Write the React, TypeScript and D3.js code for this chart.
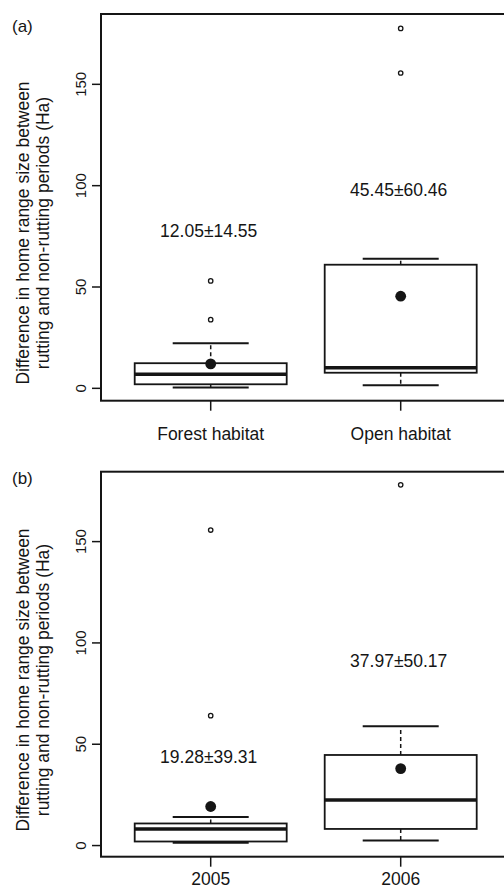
import React from "react";
import * as d3 from "d3";

// ---- data ----
const categoriesA = ["Forest habitat", "Open habitat"];
const categoriesB = ["2005", "2006"];

// [lowerWhisker, Q1, median, Q3, upperWhisker]
const statsA = [
  [0.4, 2.0, 6.9, 12.4, 22.3],
  [1.5, 7.7, 10.2, 61.0, 64.0],
];
const statsB = [
  [1.4, 2.0, 8.2, 10.9, 14.1],
  [2.5, 8.2, 22.5, 44.7, 58.9],
];
const meansA = [12.05, 45.45];
const meansB = [19.28, 37.97];
const outliersA = [[33.9, 53.0], [155.6, 177.6]];
const outliersB = [[64.1, 155.7], [178.0]];
const labelsA = ["12.05±14.55", "45.45±60.46"];
const labelsB = ["19.28±39.31", "37.97±50.17"];
const yTicks = [0, 50, 100, 150];
const panelTags = ["(a)", "(b)"];
const yTitle = ["Difference in home range size between", "rutting and non-rutting periods (Ha)"];

const FONT = "'Liberation Sans', Arial, Helvetica, sans-serif";
const INK = "#151515";

type PanelProps = {
  tag: string;
  cats: string[];
  stats: number[][];
  means: number[];
  outliers: number[][];
  labels: string[];
  top: number;
  bottom: number;
  domain: [number, number];
  labelVals: number[];
  catBaseline: number;
  titleCenter: number;
  tagY: number;
};

function Panel(p: PanelProps) {
  const left = 101;
  const y = d3.scaleLinear().domain(p.domain).range([p.bottom, p.top]);
  const x = d3
    .scaleBand<string>()
    .domain(p.cats)
    .range([115.7, 495.7])
    .paddingInner(0.2)
    .paddingOuter(0.1);
  const bw = x.bandwidth();
  return (
    <g>
      <text x={12} y={p.tagY + 6} fontSize={17} fontFamily={FONT} fill={INK}>
        {p.tag}
      </text>
      {/* y title */}
      {yTitle.map((t, i) => (
        <text
          key={i}
          transform={`translate(${29 + i * 20},${p.titleCenter}) rotate(-90)`}
          textAnchor="middle"
          fontSize={17.5}
          fontFamily={FONT}
          fill={INK}
        >
          {t}
        </text>
      ))}
      {/* y ticks */}
      {yTicks.map((t) => (
        <g key={t}>
          <line x1={left - 9} x2={left} y1={y(t)} y2={y(t)} stroke={INK} strokeWidth={1.5} />
          <text
            transform={`translate(86,${y(t)}) rotate(-90)`}
            textAnchor="middle"
            fontSize={15}
            fontFamily={FONT}
            fill={INK}
          >
            {t}
          </text>
        </g>
      ))}
      {/* boxes */}
      {p.cats.map((c, i) => {
        const [lo, q1, med, q3, hi] = p.stats[i];
        const x0 = x(c)!;
        const cx = x0 + bw / 2;
        return (
          <g key={c}>
            <line x1={cx} x2={cx} y1={y(q3)} y2={y(hi)} stroke={INK} strokeWidth={1.5} strokeDasharray="4,3" />
            <line x1={cx} x2={cx} y1={y(q1)} y2={y(lo)} stroke={INK} strokeWidth={1.5} strokeDasharray="4,3" />
            <line x1={cx - bw / 4} x2={cx + bw / 4} y1={y(hi)} y2={y(hi)} stroke={INK} strokeWidth={2} />
            <line x1={cx - bw / 4} x2={cx + bw / 4} y1={y(lo)} y2={y(lo)} stroke={INK} strokeWidth={2} />
            <rect x={x0} y={y(q3)} width={bw} height={y(q1) - y(q3)} fill="white" stroke={INK} strokeWidth={1.8} />
            <line x1={x0} x2={x0 + bw} y1={y(med)} y2={y(med)} stroke={INK} strokeWidth={3.5} />
            {p.outliers[i].map((o, j) => (
              <circle key={j} cx={cx} cy={y(o)} r={2.2} fill="white" stroke={INK} strokeWidth={1.3} />
            ))}
            <circle cx={cx} cy={y(p.means[i])} r={5.4} fill={INK} />
            <text
              x={cx - 2}
              y={y(p.labelVals[i])}
              textAnchor="middle"
              fontSize={17.5}
              fontFamily={FONT}
              fill={INK}
            >
              {p.labels[i]}
            </text>
            <line x1={cx} x2={cx} y1={p.bottom} y2={p.bottom + 10} stroke={INK} strokeWidth={1.5} />
            <text x={cx} y={p.catBaseline} textAnchor="middle" fontSize={17.5} fontFamily={FONT} fill={INK}>
              {c}
            </text>
          </g>
        );
      })}
      {/* frame */}
      <rect x={left} y={p.top} width={430} height={p.bottom - p.top} fill="none" stroke={INK} strokeWidth={2} />
    </g>
  );
}

export default function App() {
  return (
    <svg
      width={504}
      height={888}
      style={{ position: "absolute", left: 0, top: 0, background: "white" }}
    >
      <rect width={504} height={888} fill="white" />
      <Panel
        tag={panelTags[0]}
        cats={categoriesA}
        stats={statsA}
        means={meansA}
        outliers={outliersA}
        labels={labelsA}
        top={14}
        bottom={400.7}
        domain={[-6.1, 184.7]}
        labelVals={[74.6, 94.9]}
        catBaseline={440}
        titleCenter={233}
        tagY={26}
      />
      <Panel
        tag={panelTags[1]}
        cats={categoriesB}
        stats={statsB}
        means={meansB}
        outliers={outliersB}
        labels={labelsB}
        top={471.7}
        bottom={856.7}
        domain={[-5.5, 184.5]}
        labelVals={[40.6, 88.2]}
        catBaseline={885}
        titleCenter={680}
        tagY={478}
      />
    </svg>
  );
}
